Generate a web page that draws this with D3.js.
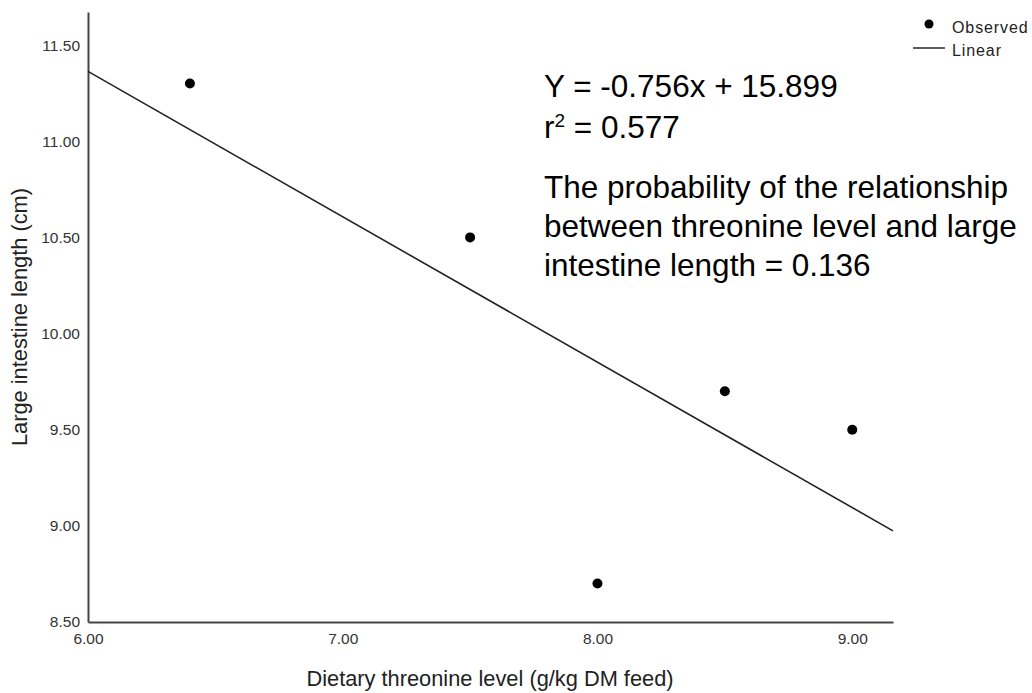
<!DOCTYPE html>
<html>
<head>
<meta charset="utf-8">
<script src="https://cdn.jsdelivr.net/npm/d3@7"></script>
<style>
  body { margin: 0; background: #fff; }
  text { font-family: "Liberation Sans", Arial, sans-serif; fill: #000; }
  .axis text { font-size: 15.5px; fill: #333; }
  .axis path { stroke: #444; stroke-width: 2; }
  .title { font-size: 21.8px; fill: #222; }
  .legend text { font-size: 16px; fill: #222; letter-spacing: 0.9px; }
</style>
</head>
<body>
<svg width="1032" height="693"></svg>
<script>
// observed points
var threonine = [6.4, 7.5, 8.0, 8.5, 9.0];
var intestineLength = [11.3, 10.5, 8.7, 9.7, 9.5];

// fitted line Y = slope*x + intercept
var slope = -0.756, intercept = 15.899;

var xTicks = [6, 7, 8, 9];
var yTicks = [8.5, 9.0, 9.5, 10.0, 10.5, 11.0, 11.5];

var svg = d3.select("svg"),
  margin = {top: 12, right: 139, bottom: 71, left: 88},
  width = +svg.attr("width") - margin.left - margin.right,
  height = +svg.attr("height") - margin.top - margin.bottom;

var x = d3.scaleLinear().domain([6, 9.16]).range([0, width]),
  y = d3.scaleLinear().domain([8.5, 11.672]).range([height, 0]);

var g = svg.append("g")
  .attr("transform", "translate(" + margin.left + "," + margin.top + ")");

g.append("g")
  .attr("class", "axis axis--x")
  .attr("transform", "translate(0," + height + ")")
  .call(d3.axisBottom(x).tickValues(xTicks).tickSize(0).tickPadding(11).tickFormat(d3.format(".2f")));

g.append("g")
  .attr("class", "axis axis--y")
  .call(d3.axisLeft(y).tickValues(yTicks).tickSize(0).tickPadding(8).tickFormat(d3.format(".2f")));

// axis titles
svg.append("text")
  .attr("class", "title")
  .attr("x", 490)
  .attr("y", 686)
  .attr("text-anchor", "middle")
  .text("Dietary threonine level (g/kg DM feed)");

svg.append("text")
  .attr("class", "title")
  .attr("transform", "translate(27,188) rotate(-90)")
  .attr("text-anchor", "end")
  .text("Large intestine length (cm)");

// regression line
var xr = x.domain();
g.append("line")
  .attr("x1", x(xr[0]))
  .attr("y1", y(slope * xr[0] + intercept))
  .attr("x2", x(xr[1]))
  .attr("y2", y(slope * xr[1] + intercept))
  .attr("stroke", "#222")
  .attr("stroke-width", 1.6);

// points
g.selectAll(".dot")
  .data(threonine)
  .enter().append("circle")
  .attr("class", "dot")
  .attr("cx", function(d) { return x(d); })
  .attr("cy", function(d, i) { return y(intestineLength[i]); })
  .attr("r", 5)
  .attr("fill", "#000");

// legend
var legend = svg.append("g").attr("class", "legend").attr("transform", "translate(913,0)");
legend.append("circle").attr("cx", 16).attr("cy", 24).attr("r", 4.5).attr("fill", "#000");
legend.append("text").attr("x", 39).attr("y", 33).text("Observed");
legend.append("line").attr("x1", 0).attr("x2", 32).attr("y1", 48).attr("y2", 48).attr("stroke", "#333").attr("stroke-width", 1.6);
legend.append("text").attr("x", 39).attr("y", 56).text("Linear");

// annotation
var note = svg.append("g").style("font-size", "31.5px");
note.append("text").attr("x", 544).attr("y", 97).text("Y = -0.756x + 15.899");
var r2 = note.append("text").attr("x", 544).attr("y", 138);
r2.append("tspan").text("r");
r2.append("tspan").attr("dy", -11).style("font-size", "19px").text("2");
r2.append("tspan").attr("dy", 11).text(" = 0.577");
note.append("text").attr("x", 544).attr("y", 198).text("The probability of the relationship");
note.append("text").attr("x", 544).attr("y", 237).text("between threonine level and large");
note.append("text").attr("x", 544).attr("y", 276).text("intestine length = 0.136");
</script>
</body>
</html>
